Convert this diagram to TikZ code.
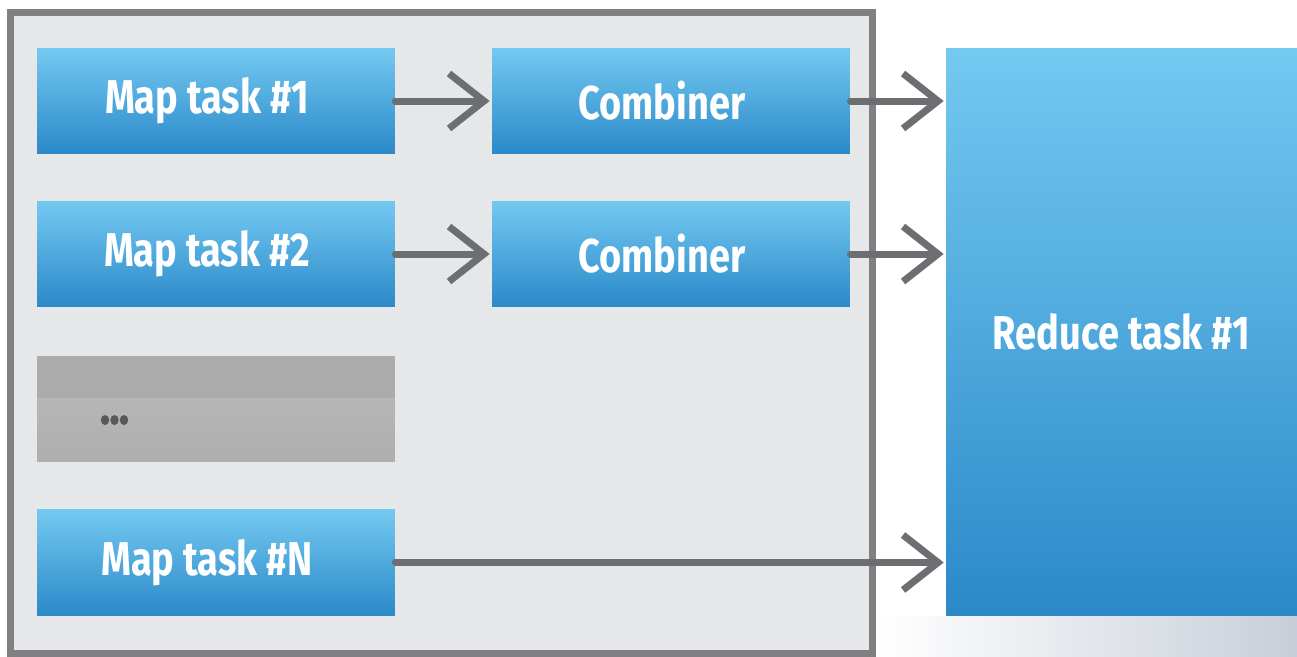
\documentclass[tikz,border=0pt]{standalone}
\usepackage{fontspec}
\setmainfont[FakeStretch=0.8]{Fira Sans}
\usetikzlibrary{arrows.meta}

\definecolor{frameGray}{HTML}{808083}
\definecolor{panelGray}{HTML}{E6E7E9}
\definecolor{arrowGray}{HTML}{6D6E71}
\definecolor{taskTop}{HTML}{74C9F1}
\definecolor{taskBot}{HTML}{2B89C9}
\definecolor{dotsTop}{HTML}{ABABAB}
\definecolor{dotsMid}{HTML}{BBBBBB}
\definecolor{dotsBot}{HTML}{AEAEAE}
\definecolor{dotsInk}{HTML}{58585A}
\definecolor{sheen}{HTML}{C8CED9}

% label sits a little left of and below the box centre
\newcommand{\tasklabel}[1]{\hspace*{-0.36cm}\raisebox{-0.06cm}{#1}}

\begin{document}
\begin{tikzpicture}[x=0.02cm, y=-0.02cm,
	task/.style={minimum width=7.16cm, minimum height=2.12cm, inner sep=0pt,
		top color=taskTop, bottom color=taskBot, text=white,
		font=\fontsize{27}{30}\selectfont\bfseries},
	flow/.style={arrowGray, line width=0.14cm, line cap=round, shorten >=0.04cm,
		-{Straight Barb[length=0.7cm, width=1.1cm, line cap=butt]}}]
	\useasboundingbox (0,0) rectangle (1297,656);

	% light sheen below the reducer
	\shade[left color=white, right color=sheen] (876,616) rectangle (1297,656);

	% map side frame
	\draw[frameGray, fill=panelGray, line width=0.14cm] (10.5,12.5) rectangle (872,653);

	% map tasks
	\node[task] (m1) at (216,101) {\tasklabel{Map task \#1}};
	\node[task] (m2) at (216,254) {\tasklabel{Map task \#2}};
	\node[task] (mn) at (216,562.5) {\tasklabel{Map task \#N}};

	% placeholder for the other map tasks
	\node[minimum width=7.16cm, minimum height=2.12cm, inner sep=0pt,
		top color=dotsMid, bottom color=dotsBot] (dots) at (216,409) {};
	\fill[dotsTop] (dots.north west) rectangle ([yshift=0.22cm]dots.east);
	\foreach \x in {105,114.5,124}
		\fill[dotsInk] (\x,420) ellipse (4.2 and 5);

	% combiners
	\node[task] (c1) at (671,101) {\tasklabel{Combiner}};
	\node[task] (c2) at (671,254) {\tasklabel{Combiner}};

	% reducer
	\node[task, minimum width=7.02cm, minimum height=11.36cm] (r1) at (1121.5,332) {\raisebox{-0.06cm}{Reduce task \#1}};

	\draw[flow] (m1) -- (c1);
	\draw[flow] (m2) -- (c2);
	\draw[flow] (c1.east) -- (c1.east -| r1.west);
	\draw[flow] (c2.east) -- (c2.east -| r1.west);
	\draw[flow] (mn.east) -- (mn.east -| r1.west);

\end{tikzpicture}
\end{document}
